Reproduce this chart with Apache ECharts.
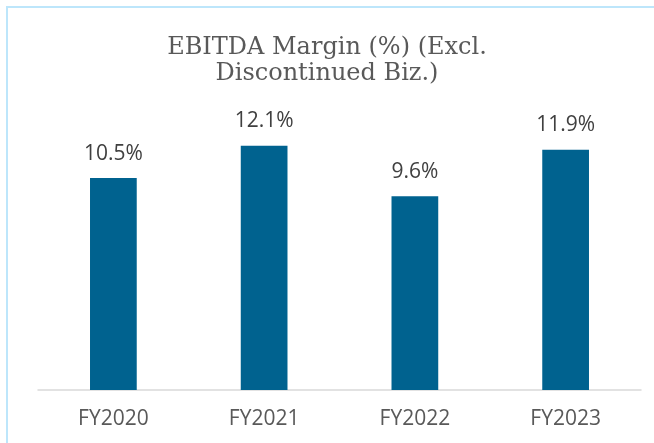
<!DOCTYPE html>
<html lang="en">
  <head>
    <meta charset="UTF-8" />
    <title>EBITDA Margin</title>
    <style>
      html, body { margin: 0; padding: 0; background: #fff; }
    </style>
  </head>
  <body>
    <div id="main" style="width: 654px; height: 443px"></div>
    <script src="https://cdn.jsdelivr.net/npm/echarts@6.0.0/dist/echarts.min.js"></script>
    <script>
      const years = ["FY2020", "FY2021", "FY2022", "FY2023"];
      const margins = [10.5, 12.1, 9.6, 11.9];

      var chartDom = document.getElementById("main");
      var myChart = echarts.init(chartDom);

      myChart.setOption({
        animation: false,
        title: {
          text: "EBITDA Margin (%) (Excl.\nDiscontinued Biz.)",
          left: "center",
          top: 30,
          textStyle: {
            fontFamily: "DejaVu Serif",
            fontWeight: "normal",
            fontSize: 24,
            lineHeight: 26,
            color: "#595959",
          },
        },
        graphic: [
          {
            type: "rect",
            shape: { x: 7, y: 7, width: 700, height: 500 },
            style: { fill: "none", stroke: "#BDE6FB", lineWidth: 2 },
          },
        ],
        grid: { left: 38, right: 13, top: 67, bottom: 53 },
        xAxis: {
          type: "category",
          data: years,
          axisTick: { show: false },
          axisLine: { lineStyle: { color: "#D9D9D9", width: 1.5 } },
          axisLabel: {
            margin: 19,
            fontFamily: "Open Sans",
            fontSize: 21,
            color: "#595959",
          },
        },
        yAxis: {
          type: "value",
          min: 0,
          max: 16,
          show: false,
          splitLine: { show: false },
        },
        series: [
          {
            type: "bar",
            data: margins,
            barWidth: "31%",
            itemStyle: { color: "#00628F" },
            label: {
              show: true,
              position: "top",
              distance: 14,
              formatter: (p) => p.value.toFixed(1) + "%",
              fontFamily: "Open Sans",
              fontSize: 21,
              color: "#404040",
            },
          },
        ],
      });
    </script>
  </body>
</html>
